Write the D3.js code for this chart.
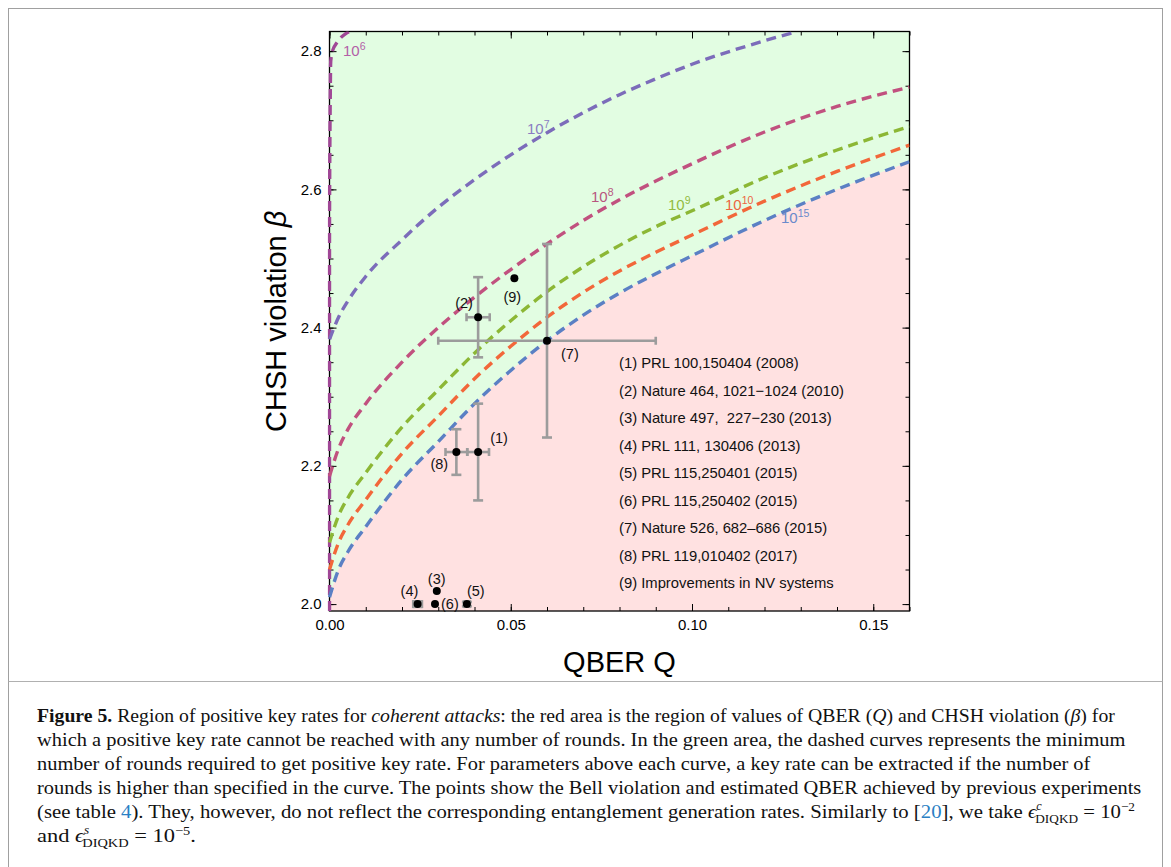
<!DOCTYPE html>
<html><head><meta charset="utf-8">
<script src="https://cdn.jsdelivr.net/npm/d3@7"></script>
<style>
body{margin:0;background:#fff;}
svg{display:block;font-family:"Liberation Sans",Arial,sans-serif;}
</style></head><body>
<svg id="c" width="1171" height="867"></svg>
<script>
// ---------------- data ----------------
const xTickValues = [0, 0.05, 0.10, 0.15];
const yTickValues = [2.0, 2.2, 2.4, 2.6, 2.8];
const curveExponents = ["6", "7", "8", "9", "10", "15"];

// curves: minimum number of rounds (QBER q, CHSH beta)
const q6  = [0, 0, 0.0003, 0.0008, 0.002, 0.0044, 0.0055];
const b6  = [1.99, 2.5, 2.78, 2.80, 2.812, 2.825, 2.8284];
const q7  = [0, 0.0025, 0.005, 0.01, 0.02, 0.03, 0.04, 0.05, 0.06, 0.07, 0.08, 0.09, 0.10, 0.12, 0.129];
const b7  = [2.383, 2.415, 2.438, 2.474, 2.527, 2.574, 2.614, 2.650, 2.682, 2.711, 2.737, 2.760, 2.781, 2.815, 2.8284];
const qGrid = [0, 0.0025, 0.005, 0.01, 0.02, 0.03, 0.04, 0.05, 0.06, 0.07, 0.08, 0.09, 0.10, 0.12, 0.14, 0.16];
const b8  = [2.185, 2.225, 2.252, 2.290, 2.350, 2.400, 2.444, 2.484, 2.521, 2.555, 2.585, 2.612, 2.637, 2.683, 2.720, 2.748];
const b9  = [2.089, 2.128, 2.153, 2.190, 2.256, 2.310, 2.363, 2.410, 2.452, 2.488, 2.519, 2.546, 2.569, 2.617, 2.657, 2.691];
const b10 = [2.050, 2.089, 2.114, 2.151, 2.218, 2.272, 2.326, 2.373, 2.415, 2.451, 2.482, 2.509, 2.534, 2.583, 2.626, 2.664];
const b15 = [2.010, 2.050, 2.075, 2.112, 2.180, 2.235, 2.290, 2.338, 2.381, 2.418, 2.450, 2.478, 2.504, 2.555, 2.600, 2.640];

// experiments
const pointIds = ["(1)", "(2)", "(3)", "(4)", "(5)", "(6)", "(7)", "(8)", "(9)"];
const pointQ   = [0.041, 0.041, 0.0296, 0.0243, 0.0379, 0.0291, 0.060, 0.035, 0.051];
const pointB   = [2.22, 2.415, 2.019, 2.0, 2.0, 2.0, 2.381, 2.22, 2.4716];
const pointQErr = [0.003, 0.0032, 0, 0.0012, 0.0008, 0, 0.03, 0.003, 0];
const pointBErr = [0.07, 0.058, 0, 0.004, 0.003, 0, 0.14, 0.033, 0];
const legendEntries = [
  "(1) PRL 100,150404 (2008)",
  "(2) Nature 464, 1021\u22121024 (2010)",
  "(3) Nature 497,  227\u2212230 (2013)",
  "(4) PRL 111, 130406 (2013)",
  "(5) PRL 115,250401 (2015)",
  "(6) PRL 115,250402 (2015)",
  "(7) Nature 526, 682\u2013686 (2015)",
  "(8) PRL 119,010402 (2017)",
  "(9) Improvements in NV systems"
];

// ---------------- styles / layout ----------------
const curveColors = ["#a04896", "#7c6cba", "#c1517f", "#8cb735", "#f2673a", "#5b80c4"];
const labelColors = ["#b35fa8", "#8a7cc2", "#b8567f", "#92bb40", "#ec6540", "#6a8acb"];
const labelPos = [[343, 56], [527, 134], [591, 202], [668, 210], [725, 210], [781, 223]];
const pointLabelOffset = [[12,-9],[-23,-9],[-9,-7],[-17,-8],[0,-8],[6,5],[14,18],[-26,17],[-11,24]];

const L = 329.5, R = 909.5, T = 31.5, B = 611;
const x = d3.scaleLinear().domain([0, 0.16]).range([L, R]);
const y = d3.scaleLinear().domain([1.99, 2 * Math.SQRT2]).range([B, T]);

const svg = d3.select("#c");

// outer figure border and separator
svg.append("rect").attr("x", 8.5).attr("y", 8.5).attr("width", 1154).attr("height", 900)
  .attr("fill", "none").attr("stroke", "#a0a0a0").attr("stroke-width", 1);
svg.append("line").attr("x1", 8.5).attr("x2", 1162.5).attr("y1", 681.5).attr("y2", 681.5)
  .attr("stroke", "#b0b0b0").attr("stroke-width", 1);

svg.append("clipPath").attr("id", "clip").append("rect")
  .attr("x", L).attr("y", T).attr("width", R - L).attr("height", B - T);
svg.append("clipPath").attr("id", "clipc").append("rect")
  .attr("x", L - 2).attr("y", T).attr("width", R - L + 2).attr("height", B - T);

const plot = svg.append("g").attr("clip-path", "url(#clip)");
plot.append("rect").attr("x", L).attr("y", T).attr("width", R - L).attr("height", B - T).attr("fill", "#e2fde2");

const zipped = (qs, bs) => qs.map((q, i) => [q, bs[i]]);
const curves = [zipped(q6, b6), zipped(q7, b7), zipped(qGrid, b8), zipped(qGrid, b9), zipped(qGrid, b10), zipped(qGrid, b15)];

plot.append("path").datum(curves[5])
  .attr("d", d3.area().x(d => x(d[0])).y0(B + 5).y1(d => y(d[1])).curve(d3.curveMonotoneX))
  .attr("fill", "#ffe1e1");

// frame + ticks
const minorX = x.ticks(16), minorY = y.ticks(17);
function axis(gen, tr, values, size, fmt) {
  const g = svg.append("g").attr("transform", tr)
    .call(gen.tickValues(values).tickSize(size).tickPadding(8).tickFormat(fmt || ""));
  g.select(".domain").remove();
  g.selectAll("line").attr("stroke", "#000").attr("stroke-width", 1);
  g.selectAll("text").attr("font-size", 15).attr("fill", "#000").attr("font-family", "Liberation Sans, Arial, sans-serif");
  return g;
}
axis(d3.axisBottom(x), `translate(0,${B})`, minorX, -4);
axis(d3.axisBottom(x), `translate(0,${B})`, xTickValues, -7, d3.format(".2f"));
axis(d3.axisTop(x), `translate(0,${T})`, minorX, -4);
axis(d3.axisTop(x), `translate(0,${T})`, xTickValues, -7);
axis(d3.axisLeft(y), `translate(${L},0)`, minorY, -4);
axis(d3.axisLeft(y), `translate(${L},0)`, yTickValues, -7, d3.format(".1f"));
axis(d3.axisRight(y), `translate(${R},0)`, minorY, -4);
axis(d3.axisRight(y), `translate(${R},0)`, yTickValues, -7);
svg.append("rect").attr("x", L).attr("y", T).attr("width", R - L).attr("height", B - T)
  .attr("fill", "none").attr("stroke", "#000").attr("stroke-width", 1.3);

// dashed curves (drawn over the frame, as in the original)
const curveLayer = svg.append("g").attr("clip-path", "url(#clipc)");
curves.forEach((c, i) => {
  const gen = d3.line().x(d => x(d[0])).y(d => y(d[1]))
    .curve(i === 0 ? d3.curveMonotoneY : d3.curveMonotoneX);
  curveLayer.append("path").datum(c).attr("d", gen)
    .attr("fill", "none").attr("stroke", curveColors[i]).attr("stroke-width", 3.4)
    .attr("stroke-dasharray", "10,6");
});

// curve labels
curveExponents.forEach((e, i) => {
  const t = svg.append("text").attr("x", labelPos[i][0]).attr("y", labelPos[i][1])
    .attr("fill", labelColors[i]).attr("font-size", 15);
  t.append("tspan").text("10");
  t.append("tspan").attr("dy", -6).attr("font-size", 10.5).text(e);
});

// error bars
const eb = svg.append("g").attr("stroke", "#9c9c9c").attr("stroke-width", 2.6).attr("fill", "none");
pointIds.forEach((id, i) => {
  const px = x(pointQ[i]), py = y(pointB[i]);
  if (pointQErr[i] > 0) {
    const x0 = x(pointQ[i] - pointQErr[i]), x1 = x(pointQ[i] + pointQErr[i]);
    eb.append("line").attr("x1", x0).attr("x2", x1).attr("y1", py).attr("y2", py);
    eb.append("line").attr("x1", x0).attr("x2", x0).attr("y1", py - 4).attr("y2", py + 4);
    eb.append("line").attr("x1", x1).attr("x2", x1).attr("y1", py - 4).attr("y2", py + 4);
  }
  if (pointBErr[i] > 0) {
    const y0 = y(pointB[i] - pointBErr[i]), y1 = y(pointB[i] + pointBErr[i]);
    eb.append("line").attr("x1", px).attr("x2", px).attr("y1", y0).attr("y2", y1);
    eb.append("line").attr("x1", px - 5).attr("x2", px + 5).attr("y1", y0).attr("y2", y0);
    eb.append("line").attr("x1", px - 5).attr("x2", px + 5).attr("y1", y1).attr("y2", y1);
  }
});
// points
svg.append("g").selectAll("circle").data(pointIds).join("circle")
  .attr("cx", (d, i) => x(pointQ[i])).attr("cy", (d, i) => y(pointB[i])).attr("r", 4).attr("fill", "#000");
svg.append("g").selectAll("text").data(pointIds).join("text")
  .attr("x", (d, i) => x(pointQ[i]) + pointLabelOffset[i][0])
  .attr("y", (d, i) => y(pointB[i]) + pointLabelOffset[i][1])
  .attr("font-size", 14.5).attr("fill", "#111").text(d => d);

// legend
svg.append("g").selectAll("text").data(legendEntries).join("text")
  .attr("x", 619).attr("y", (d, i) => 368 + i * 27.5)
  .attr("font-size", 14.8).attr("fill", "#111").style("white-space", "pre").attr("xml:space", "preserve")
  .text(d => d);

// axis titles
svg.append("text").attr("x", (L + R) / 2).attr("y", 672).attr("text-anchor", "middle")
  .attr("font-size", 29).attr("fill", "#000").text("QBER Q");
const yt = svg.append("text").attr("transform", `translate(286,${(T + B) / 2}) rotate(-90)`)
  .attr("text-anchor", "middle").attr("font-size", 29).attr("fill", "#000");
yt.append("tspan").text("CHSH violation ");
yt.append("tspan").attr("font-style", "italic").text("\u03b2");

// caption
const capLines = [
  [["Figure 5.", "b"], [" Region of positive key rates for "], ["coherent attacks", "i"], [": the red area is the region of values of QBER ("], ["Q", "i"], [") and CHSH violation ("], ["\u03b2", "i"], [") for"]],
  [["which a positive key rate cannot be reached with any number of rounds. In the green area, the dashed curves represents the minimum"]],
  [["number of rounds required to get positive key rate. For parameters above each curve, a key rate can be extracted if the number of"]],
  [["rounds is higher than specified in the curve. The points show the Bell violation and estimated QBER achieved by previous experiments"]],
  [["(see table "], ["4", "l"], ["). They, however, do not reflect the corresponding entanglement generation rates. Similarly to ["], ["20", "l"], ["], we take "], ["\u03f5", "i"], ["c", "sup"], ["DIQKD", "sub"], [" = 10", "back"], ["\u22122", "sup2"]],
  [["and "], ["\u03f5", "i"], ["s", "sup"], ["DIQKD", "sub"], [" = 10", "back"], ["\u22125", "sup2"], [".", "back2"]]
];
const capEnds = [1115, 1126, 1091, 1142, 1142, 203];
capLines.forEach((segs, li) => {
  const g = svg.append("g");
  const t = g.append("text").attr("x", 0).attr("y", 0)
    .attr("font-family", "Liberation Serif, Times New Roman, serif").attr("font-size", 19.5).attr("fill", "#111")
    .attr("xml:space", "preserve");
  segs.forEach(([s, k]) => {
    const sp = t.append("tspan").text(s);
    if (k === "b") sp.attr("font-weight", "bold");
    if (k === "i") sp.attr("font-style", "italic");
    if (k === "l") sp.attr("fill", "#2a7fc4");
    if (k === "sup") sp.attr("font-style", "italic").attr("font-size", 11.5).attr("dy", -8);
    if (k === "sub") sp.attr("font-size", 12.5).attr("dy", 13).attr("dx", -6);
    if (k === "back") sp.attr("dy", -5);
    if (k === "sup2") sp.attr("font-size", 12.5).attr("dy", -7);
    if (k === "back2") sp.attr("dy", 7);
  });
  const w = t.node().getComputedTextLength();
  const k = (capEnds[li] - 37) / w;
  g.attr("transform", `translate(37,${722 + li * 24}) scale(${k},1)`);
});
</script>
</body></html>
